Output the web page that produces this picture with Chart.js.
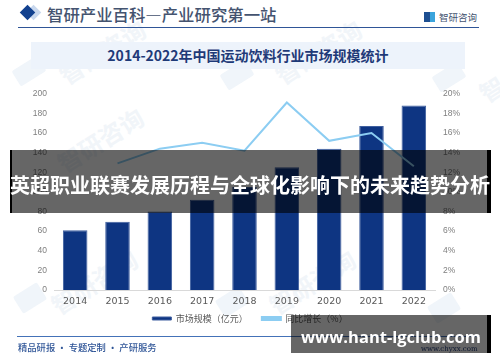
<!DOCTYPE html>
<html lang="zh"><head><meta charset="utf-8">
<script src="https://cdn.jsdelivr.net/npm/chart.js@4"></script>
<style>
html,body{margin:0;padding:0;background:#fff}
#w{position:relative;width:500px;height:362px;overflow:hidden;font-family:"Noto Sans CJK SC",sans-serif;background:#fff}
#w>*{position:absolute}
canvas{left:0;top:0}
.wm{color:#f1f5f9;font-weight:700;white-space:nowrap;transform:rotate(-32deg);transform-origin:left top}
.lg{border-radius:2px;background:#f0f5fa;transform:rotate(-32deg)}
.d{transform:rotate(45deg)}
</style></head><body>
<div id="w">
<div class="wm" style="left:52px;top:62px;font-size:24px">智研咨询</div>
<div class="wm" style="left:268px;top:62px;font-size:24px">智研咨询</div>
<div class="wm" style="left:50px;top:150px;font-size:24px">智研咨询</div>
<div class="wm" style="left:44px;top:292px;font-size:24px">智研咨询</div>
<div class="wm" style="left:262px;top:292px;font-size:24px">智研咨询</div>
<div class="wm" style="left:472px;top:80px;font-size:24px">智</div>
<div class="lg" style="left:14px;top:62px;width:30px;height:18px"></div>
<div class="lg" style="left:222px;top:66px;width:30px;height:18px"></div>
<div class="lg" style="left:434px;top:68px;width:30px;height:18px"></div>
<div class="lg" style="left:16px;top:288px;width:28px;height:20px"></div>
<div class="lg" style="left:218px;top:292px;width:28px;height:20px"></div>
<div class="lg" style="left:430px;top:298px;width:28px;height:20px"></div>

<div class="d" style="left:22px;top:7px;width:11px;height:11px;background:#c9d8ee;margin-left:6px"></div>
<div class="d" style="left:22px;top:7px;width:11px;height:11px;background:#12418f"></div>
<div style="left:47px;top:1px;font-size:16.4px;line-height:26px;color:#44536f;font-weight:500;white-space:nowrap">智研产业百科—产业研究第一站</div>
<div style="left:18px;top:27px;width:461px;height:1px;background:#2f5597"></div>
<div style="left:424px;top:12px;width:11px;height:10px;background:linear-gradient(90deg,#1d4f91 50%,#3ba4dc 50%)"></div>
<div style="left:439px;top:9px;font-size:9.5px;line-height:17px;color:#44536f;white-space:nowrap">智研咨询</div>

<div style="left:31px;top:42px;width:434px;height:27px;background:#edf3fb"></div>
<div style="left:31px;top:42px;width:434px;height:27px;line-height:27px;text-align:center;font-size:14px;font-weight:700;color:#1f3a78;white-space:nowrap">2014-2022年中国运动饮料行业市场规模统计</div>

<canvas id="c" width="500" height="362" style="position:absolute"></canvas>

<div style="left:17px;top:336px;width:463px;height:1px;background:#4472b8"></div>
<div style="left:18px;top:339px;font-size:9.3px;line-height:16px;font-weight:500;color:#2f5597;white-space:nowrap">精品研报 · 专题定制 · 产研服务</div>
<div style="left:421px;top:342px;font-family:'DejaVu Serif',serif;font-size:7px;line-height:14px;color:#1f3a78;white-space:nowrap">www.chyxx.com</div>

<div style="left:10px;top:150px;width:480px;height:63px;background:rgba(0,0,0,.6)"></div>
<div style="left:10px;top:150px;width:2px;height:63px;background:#000"></div>
<div style="left:487px;top:150px;width:4px;height:63px;background:#000"></div>
<div style="left:10px;top:150px;width:480px;height:70px;line-height:70px;text-align:center;color:#fff;font-size:20px;font-weight:700;white-space:nowrap">英超职业联赛发展历程与全球化影响下的未来趋势分析</div>

<div style="left:291px;top:315px;width:200px;height:38px;background:rgba(0,0,0,.6)"></div>
<div style="left:487px;top:315px;width:4px;height:38px;background:#000"></div>
<div style="left:301px;top:315px;width:178px;height:44px;line-height:44px;text-align:center;color:#fff;font-family:'Open Sans',sans-serif;font-size:16.5px;font-weight:700;white-space:nowrap">www.hant-lgclub.com</div>
</div>
<script>
const categories=["2014","2015","2016","2017","2018","2019","2020","2021","2022"];
const marketSize=[61,69.5,80,92,105,125,144,167,188];
const growth=[null,12.9,14.4,15,14.2,19.1,15.2,16,12.6];
const leftTicks=[0,20,40,60,80,100,120,140,160,180,200];
Chart.defaults.animation=false;
const raiseLegend={id:'raiseLegend',beforeDraw(c){c.legend.top-=6}};
new Chart(document.getElementById('c'),{
 plugins:[raiseLegend],
 data:{labels:categories,datasets:[
  {type:'bar',label:'市场规模（亿元）',data:marketSize,yAxisID:'y',order:2,backgroundColor:'#0e3582',borderColor:'#3f5f9f',borderWidth:1,barPercentage:.58,categoryPercentage:1},
  {type:'line',label:'同比增长（%）',data:growth,yAxisID:'y1',order:1,borderColor:'#8ccdf2',backgroundColor:'#8ccdf2',borderWidth:2,pointRadius:0,tension:0,spanGaps:false}
 ]},
 options:{responsive:false,maintainAspectRatio:false,
  layout:{padding:{top:93.7,bottom:23,left:0,right:0}},
  plugins:{tooltip:{enabled:false},legend:{display:true,position:'bottom',
    labels:{sort:(a,b)=>a.datasetIndex-b.datasetIndex,boxWidth:19,boxHeight:3,padding:14,color:'#595959',font:{size:9,family:'"Noto Sans CJK SC"'}}}},
  scales:{
   x:{afterFit(s){s.height=16},grid:{display:false,drawTicks:false},border:{color:'#d9d9d9'},
      ticks:{color:'#595959',padding:6,font:{size:9.5,family:'"DejaVu Sans"'}}},
   y:{position:'left',min:0,max:200,afterBuildTicks(a){a.ticks=leftTicks.map(v=>({value:v}))},
      afterFit(s){s.width=54},grid:{display:false,drawTicks:false},border:{display:false},
      ticks:{color:'#7f7f7f',padding:7,font:{size:8.5,family:'"Liberation Sans"'}}},
   y1:{position:'right',min:0,max:20,afterFit(s){s.width=65},grid:{display:false,drawTicks:false},border:{display:false},
      ticks:{stepSize:2,color:'#7f7f7f',padding:8,callback:v=>v+'%',font:{size:8.5,family:'"Liberation Sans"'}}}
  }}
});
</script>
</body></html>
